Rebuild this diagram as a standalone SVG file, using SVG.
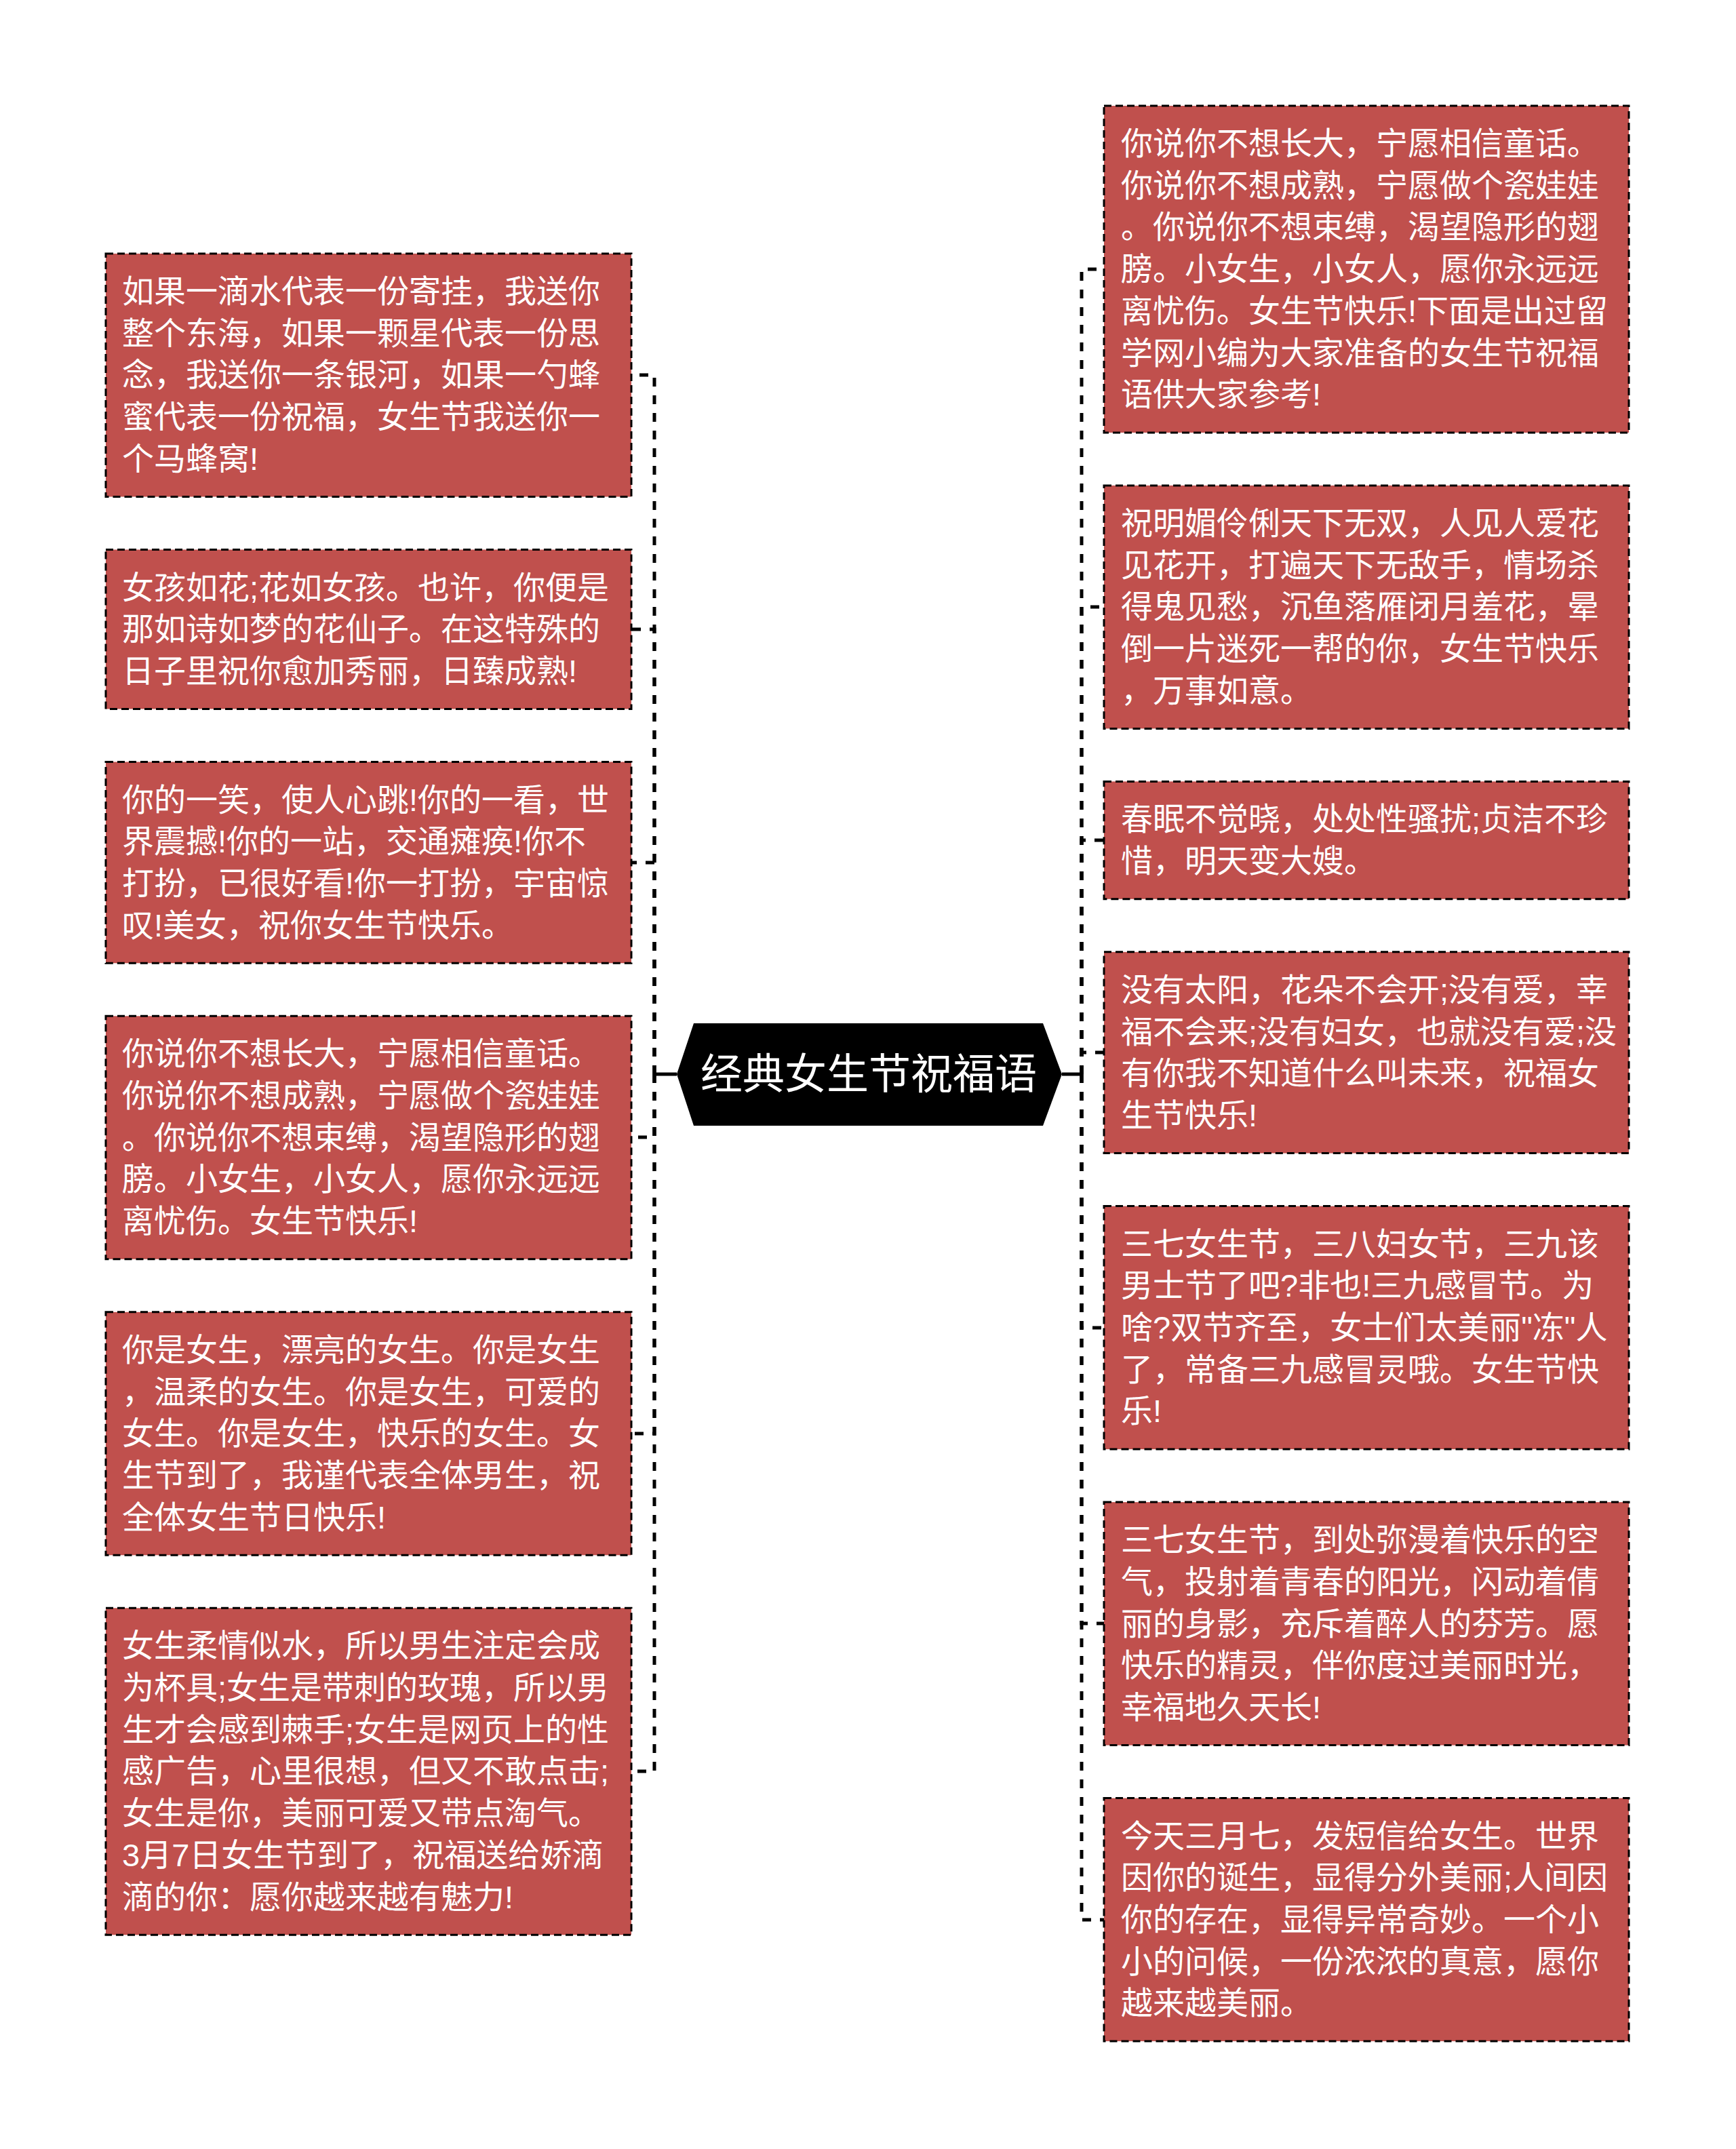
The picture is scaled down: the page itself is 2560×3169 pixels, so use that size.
<svg xmlns="http://www.w3.org/2000/svg" width="2560" height="3169" viewBox="0 0 2560 3169">
<style>
.box{fill:#C0504D;stroke:#000;stroke-width:3;stroke-dasharray:11 6}
.t{fill:#fff;font-family:"Liberation Sans","Noto Sans CJK SC",sans-serif;font-size:47px}
.conn{fill:none;stroke:#000;stroke-width:5;stroke-dasharray:13 13}
.stub{fill:none;stroke:#000;stroke-width:5}
.title{fill:#fff;font-family:"Noto Sans CJK SC","Noto Sans",sans-serif;font-size:62px}
</style>
<rect width="2560" height="3169" fill="#fff"/>
<g id="connectors">
<path class="stub" d="M998 1584 H965"/>
<path class="conn" d="M965 1584 V553 H931"/>
<path class="conn" d="M965 1584 V928 H931"/>
<path class="conn" d="M965 1584 V1272 H931"/>
<path class="conn" d="M965 1584 V1677 H931"/>
<path class="conn" d="M965 1584 V2114 H931"/>
<path class="conn" d="M965 1584 V2612 H931"/>
<path class="stub" d="M1566 1584 H1595"/>
<path class="conn" d="M1595 1584 V397 H1628"/>
<path class="conn" d="M1595 1584 V895 H1628"/>
<path class="conn" d="M1595 1584 V1239 H1628"/>
<path class="conn" d="M1595 1584 V1552 H1628"/>
<path class="conn" d="M1595 1584 V1958 H1628"/>
<path class="conn" d="M1595 1584 V2394 H1628"/>
<path class="conn" d="M1595 1584 V2831 H1628"/>
</g>
<g id="center">
<polygon points="998,1584 1023,1509 1538,1509 1566,1584 1538,1660 1023,1660" fill="#000"/>
<text class="title" x="1281" y="1606" text-anchor="middle">经典女生节祝福语</text>
</g>
<g id="L1">
<rect class="box" x="156" y="374" width="775" height="358.5"/>
<text class="t"><tspan x="180" y="446">如果一滴水代表一份寄挂，我送你</tspan><tspan x="180" y="507.7">整个东海，如果一颗星代表一份思</tspan><tspan x="180" y="569.4">念，我送你一条银河，如果一勺蜂</tspan><tspan x="180" y="631.1">蜜代表一份祝福，女生节我送你一</tspan><tspan x="180" y="692.8">个马蜂窝!</tspan></text>
</g>
<g id="L2">
<rect class="box" x="156" y="810.5" width="775" height="235"/>
<text class="t"><tspan x="180" y="882.5">女孩如花;花如女孩。也许，你便是</tspan><tspan x="180" y="944.2">那如诗如梦的花仙子。在这特殊的</tspan><tspan x="180" y="1005.9">日子里祝你愈加秀丽，日臻成熟!</tspan></text>
</g>
<g id="L3">
<rect class="box" x="156" y="1123.5" width="775" height="296.8"/>
<text class="t"><tspan x="180" y="1195.5">你的一笑，使人心跳!你的一看，世</tspan><tspan x="180" y="1257.2">界震撼!你的一站，交通瘫痪!你不</tspan><tspan x="180" y="1318.9">打扮，已很好看!你一打扮，宇宙惊</tspan><tspan x="180" y="1380.6">叹!美女，祝你女生节快乐。</tspan></text>
</g>
<g id="L4">
<rect class="box" x="156" y="1498.3" width="775" height="358.5"/>
<text class="t"><tspan x="180" y="1570.3">你说你不想长大，宁愿相信童话。</tspan><tspan x="180" y="1632">你说你不想成熟，宁愿做个瓷娃娃</tspan><tspan x="180" y="1693.7">。你说你不想束缚，渴望隐形的翅</tspan><tspan x="180" y="1755.4">膀。小女生，小女人，愿你永远远</tspan><tspan x="180" y="1817.1">离忧伤。女生节快乐!</tspan></text>
</g>
<g id="L5">
<rect class="box" x="156" y="1934.8" width="775" height="358.5"/>
<text class="t"><tspan x="180" y="2006.8">你是女生，漂亮的女生。你是女生</tspan><tspan x="180" y="2068.5">，温柔的女生。你是女生，可爱的</tspan><tspan x="180" y="2130.2">女生。你是女生，快乐的女生。女</tspan><tspan x="180" y="2191.9">生节到了，我谨代表全体男生，祝</tspan><tspan x="180" y="2253.6">全体女生节日快乐!</tspan></text>
</g>
<g id="L6">
<rect class="box" x="156" y="2371.3" width="775" height="482"/>
<text class="t"><tspan x="180" y="2443.3">女生柔情似水，所以男生注定会成</tspan><tspan x="180" y="2505">为杯具;女生是带刺的玫瑰，所以男</tspan><tspan x="180" y="2566.7">生才会感到棘手;女生是网页上的性</tspan><tspan x="180" y="2628.4">感广告，心里很想，但又不敢点击;</tspan><tspan x="180" y="2690.1">女生是你，美丽可爱又带点淘气。</tspan><tspan x="180" y="2751.8">3月7日女生节到了，祝福送给娇滴</tspan><tspan x="180" y="2813.5">滴的你：愿你越来越有魅力!</tspan></text>
</g>
<g id="R1">
<rect class="box" x="1628" y="156" width="774" height="482"/>
<text class="t"><tspan x="1653" y="228">你说你不想长大，宁愿相信童话。</tspan><tspan x="1653" y="289.7">你说你不想成熟，宁愿做个瓷娃娃</tspan><tspan x="1653" y="351.4">。你说你不想束缚，渴望隐形的翅</tspan><tspan x="1653" y="413.1">膀。小女生，小女人，愿你永远远</tspan><tspan x="1653" y="474.8">离忧伤。女生节快乐!下面是出过留</tspan><tspan x="1653" y="536.5">学网小编为大家准备的女生节祝福</tspan><tspan x="1653" y="598.2">语供大家参考!</tspan></text>
</g>
<g id="R2">
<rect class="box" x="1628" y="715.9" width="774" height="358.5"/>
<text class="t"><tspan x="1653" y="787.9">祝明媚伶俐天下无双，人见人爱花</tspan><tspan x="1653" y="849.6">见花开，打遍天下无敌手，情场杀</tspan><tspan x="1653" y="911.3">得鬼见愁，沉鱼落雁闭月羞花，晕</tspan><tspan x="1653" y="973">倒一片迷死一帮的你，女生节快乐</tspan><tspan x="1653" y="1034.7">，万事如意。</tspan></text>
</g>
<g id="R3">
<rect class="box" x="1628" y="1152.4" width="774" height="173.4"/>
<text class="t"><tspan x="1653" y="1224.4">春眠不觉晓，处处性骚扰;贞洁不珍</tspan><tspan x="1653" y="1286.1">惜，明天变大嫂。</tspan></text>
</g>
<g id="R4">
<rect class="box" x="1628" y="1403.8" width="774" height="296.8"/>
<text class="t"><tspan x="1653" y="1475.8">没有太阳，花朵不会开;没有爱，幸</tspan><tspan x="1653" y="1537.5">福不会来;没有妇女，也就没有爱;没</tspan><tspan x="1653" y="1599.2">有你我不知道什么叫未来，祝福女</tspan><tspan x="1653" y="1660.9">生节快乐!</tspan></text>
</g>
<g id="R5">
<rect class="box" x="1628" y="1778.6" width="774" height="358.5"/>
<text class="t"><tspan x="1653" y="1850.6">三七女生节，三八妇女节，三九该</tspan><tspan x="1653" y="1912.3">男士节了吧?非也!三九感冒节。为</tspan><tspan x="1653" y="1974">啥?双节齐至，女士们太美丽"冻"人</tspan><tspan x="1653" y="2035.7">了，常备三九感冒灵哦。女生节快</tspan><tspan x="1653" y="2097.4">乐!</tspan></text>
</g>
<g id="R6">
<rect class="box" x="1628" y="2215.1" width="774" height="358.5"/>
<text class="t"><tspan x="1653" y="2287.1">三七女生节，到处弥漫着快乐的空</tspan><tspan x="1653" y="2348.8">气，投射着青春的阳光，闪动着倩</tspan><tspan x="1653" y="2410.5">丽的身影，充斥着醉人的芬芳。愿</tspan><tspan x="1653" y="2472.2">快乐的精灵，伴你度过美丽时光，</tspan><tspan x="1653" y="2533.9">幸福地久天长!</tspan></text>
</g>
<g id="R7">
<rect class="box" x="1628" y="2651.6" width="774" height="358.5"/>
<text class="t"><tspan x="1653" y="2723.6">今天三月七，发短信给女生。世界</tspan><tspan x="1653" y="2785.3">因你的诞生，显得分外美丽;人间因</tspan><tspan x="1653" y="2847">你的存在，显得异常奇妙。一个小</tspan><tspan x="1653" y="2908.7">小的问候，一份浓浓的真意，愿你</tspan><tspan x="1653" y="2970.4">越来越美丽。</tspan></text>
</g>
</svg>
